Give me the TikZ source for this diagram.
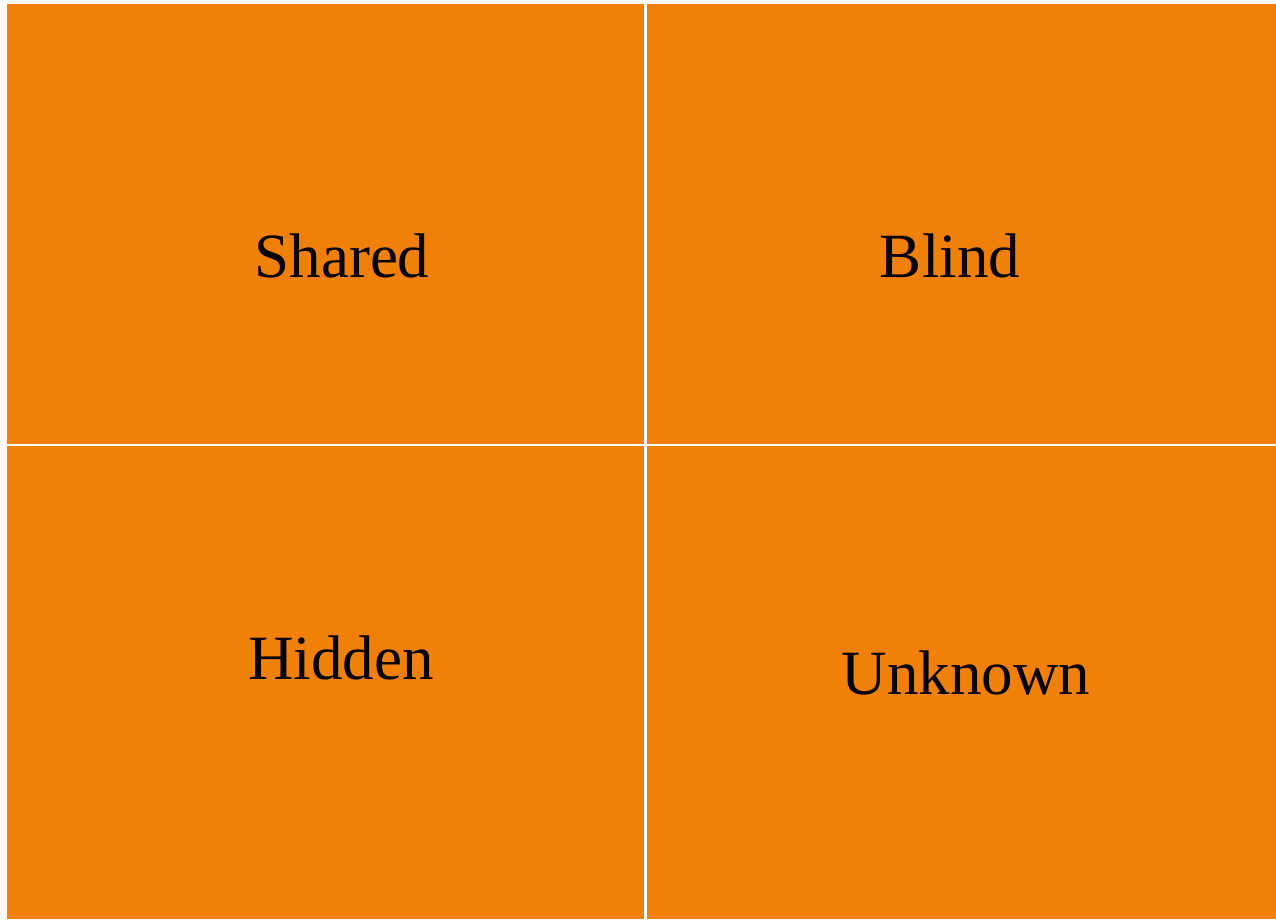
\documentclass[tikz,border=0pt]{standalone}
\usepackage{fontspec}
\setmainfont{Liberation Serif}
\definecolor{boxorange}{RGB}{240,128,10}
\begin{document}
\begin{tikzpicture}[x=1pt,y=-1pt,
  quad/.style={fill=boxorange,draw=none},
  lbl/.style={anchor=base,inner sep=0pt,font=\fontsize{63}{70}\selectfont,text=black}]
\useasboundingbox[fill=white] (0,0) rectangle (1276,919);
\fill[quad] (7,4) rectangle (644,444);
\fill[quad] (647,4) rectangle (1276,444);
\fill[quad] (7,446) rectangle (644,919);
\fill[quad] (647,446) rectangle (1276,919);
\node[lbl] (shared) at (342,277) {Shared};
\node[lbl] (blind) at (950,277) {Blind};
\node[lbl] (hidden) at (341,679) {Hidden};
\node[lbl] (unknown) at (966,694) {Unknown};
\end{tikzpicture}
\end{document}
